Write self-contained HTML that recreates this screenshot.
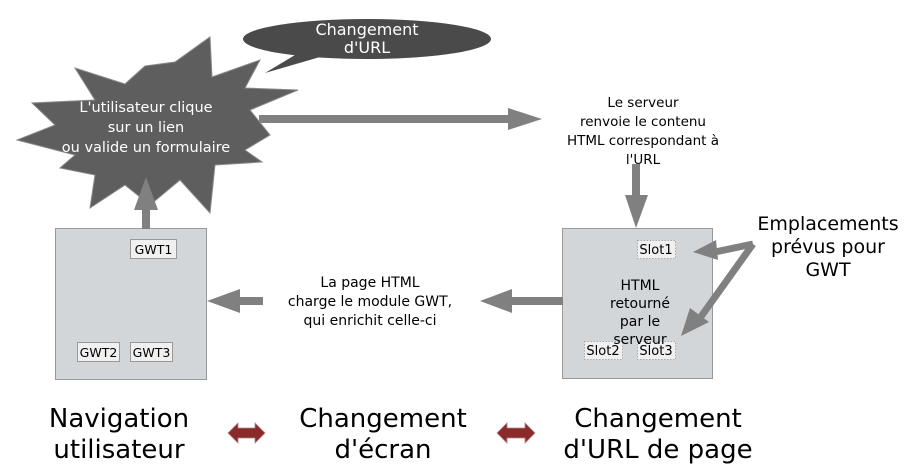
<!DOCTYPE html>
<html><head><meta charset="utf-8"><style>
html,body{margin:0;padding:0;background:#fff;}
svg{display:block;font-family:"DejaVu Sans","Liberation Sans",sans-serif;}
</style></head><body>
<svg width="919" height="476" viewBox="0 0 919 476" xmlns="http://www.w3.org/2000/svg">
<!-- callout -->
<path d="M300,52 L265,73 L320,57 Z" fill="#4a4a4a"/>
<ellipse cx="367" cy="39" rx="124" ry="20" fill="#4a4a4a"/>
<text x="367" y="35" fill="#fff" font-size="16" text-anchor="middle">Changement</text>
<text x="367" y="53" fill="#fff" font-size="16" text-anchor="middle">d'URL</text>
<!-- star -->
<polygon fill="#5e5e5e" stroke="#888" stroke-width="1" points="145,66 175,62 210,37 212,77 260,60 245,88 298,90 250,110 270,135 245,150 262,162 215,165 210,213 180,180 150,205 125,185 90,208 95,175 60,168 75,155 17,140 55,125 32,103 95,100 75,68 125,84"/>
<text x="146" y="112" fill="#fff" font-size="14.5" text-anchor="middle">L'utilisateur clique</text>
<text x="146" y="132" fill="#fff" font-size="14.5" text-anchor="middle">sur un lien</text>
<text x="146" y="152" fill="#fff" font-size="14.5" text-anchor="middle">ou valide un formulaire</text>
<!-- right arrow -->
<rect x="259" y="115" width="250" height="8" fill="#808080"/>
<polygon points="508,108 542,119 508,130" fill="#808080"/>
<text x="643" y="107" font-size="13.5" text-anchor="middle">Le serveur</text>
<text x="643" y="126" font-size="13.5" text-anchor="middle">renvoie le contenu</text>
<text x="643" y="145" font-size="13.5" text-anchor="middle">HTML correspondant à</text>
<text x="643" y="164" font-size="13.5" text-anchor="middle">l'URL</text>
<!-- down arrow -->
<rect x="632" y="164" width="8" height="32" fill="#808080"/>
<polygon points="625,195 648,195 636,228" fill="#808080"/>
<!-- right box -->
<rect x="562.5" y="228.5" width="150" height="150" fill="#d3d6d9" stroke="#999"/>
<rect x="637.5" y="240.5" width="38" height="18" fill="#f0f0f0" stroke="#aaa" stroke-dasharray="1.5,1.5"/>
<text x="656" y="254" font-size="13" text-anchor="middle">Slot1</text>
<rect x="584.5" y="341.5" width="38" height="18" fill="#f0f0f0" stroke="#aaa" stroke-dasharray="1.5,1.5"/>
<text x="603" y="355" font-size="13" text-anchor="middle">Slot2</text>
<rect x="637.5" y="341.5" width="38" height="18" fill="#f0f0f0" stroke="#aaa" stroke-dasharray="1.5,1.5"/>
<text x="656" y="355" font-size="13" text-anchor="middle">Slot3</text>
<text x="640" y="290" font-size="14" text-anchor="middle">HTML</text>
<text x="640" y="308" font-size="14" text-anchor="middle">retourné</text>
<text x="640" y="326" font-size="14" text-anchor="middle">par le</text>
<text x="640" y="344" font-size="14" text-anchor="middle">serveur</text>
<!-- emplacements -->
<text x="828" y="230" font-size="19" text-anchor="middle">Emplacements</text>
<text x="828" y="253" font-size="19" text-anchor="middle">prévus pour</text>
<text x="828" y="276" font-size="19" text-anchor="middle">GWT</text>
<polyline points="753,244 710,253" fill="none" stroke="#808080" stroke-width="7"/>
<polygon points="693,252 716,240 718,260" fill="#808080"/>
<polyline points="753,244 700,318" fill="none" stroke="#808080" stroke-width="7"/>
<polygon points="681,336 690,308 709,322" fill="#808080"/>
<!-- left box -->
<rect x="55.5" y="228.5" width="151" height="151" fill="#d3d6d9" stroke="#999"/>
<rect x="130.5" y="239.5" width="46" height="19" fill="#f0f0f0" stroke="#999"/>
<text x="153.5" y="254" font-size="12.5" text-anchor="middle">GWT1</text>
<rect x="77.5" y="342.5" width="42" height="19" fill="#f0f0f0" stroke="#999"/>
<text x="98.5" y="357" font-size="12.5" text-anchor="middle">GWT2</text>
<rect x="130.5" y="342.5" width="42" height="19" fill="#f0f0f0" stroke="#999"/>
<text x="151.5" y="357" font-size="12.5" text-anchor="middle">GWT3</text>
<!-- up arrow -->
<rect x="142" y="208" width="8" height="21" fill="#808080"/>
<polygon points="134,210 158,210 146,177" fill="#808080"/>
<!-- middle arrows -->
<rect x="238" y="297" width="25" height="8" fill="#808080"/>
<polygon points="240,289 240,313 207,301" fill="#808080"/>
<rect x="510" y="297" width="53" height="8" fill="#808080"/>
<polygon points="512,289 512,313 480,301" fill="#808080"/>
<text x="370" y="287" font-size="14" text-anchor="middle">La page HTML</text>
<text x="370" y="306" font-size="14" text-anchor="middle">charge le module GWT,</text>
<text x="370" y="325" font-size="14" text-anchor="middle">qui enrichit celle-ci</text>
<!-- bottom -->
<text x="119" y="427" font-size="26" text-anchor="middle">Navigation</text>
<text x="119" y="458" font-size="26" text-anchor="middle">utilisateur</text>
<text x="383" y="427" font-size="26" text-anchor="middle">Changement</text>
<text x="383" y="458" font-size="26" text-anchor="middle">d'écran</text>
<text x="658" y="427" font-size="26" text-anchor="middle">Changement</text>
<text x="658" y="458" font-size="26" text-anchor="middle">d'URL de page</text>
<polygon points="228,433 238,423 238,428 255,428 255,423 265,433 255,443 255,438 238,438 238,443" fill="#8b2a2a" stroke="#a88" stroke-width="0.8"/>
<polygon points="497,433 507,423 507,428 525,428 525,423 535,433 525,443 525,438 507,438 507,443" fill="#8b2a2a" stroke="#a88" stroke-width="0.8"/>
</svg>
</body></html>
